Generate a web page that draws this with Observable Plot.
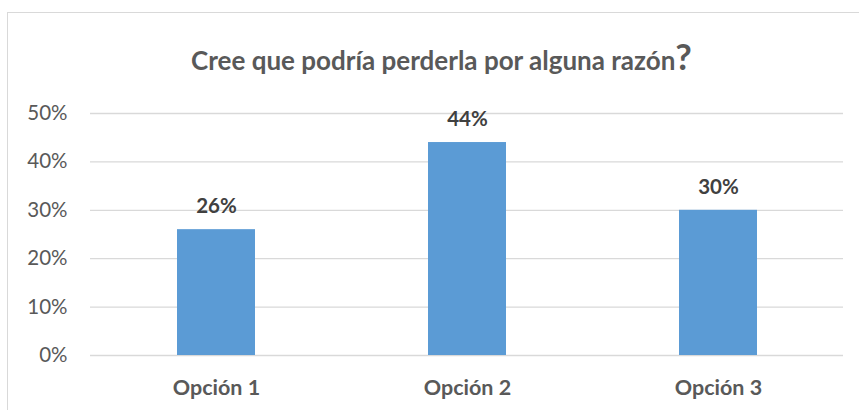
<!DOCTYPE html>
<html><head><meta charset="utf-8">
<script src="https://cdn.jsdelivr.net/npm/d3@7"></script>
<script src="https://cdn.jsdelivr.net/npm/@observablehq/plot@0.6"></script>
<style>
body{margin:0;background:#fff;}
#wrap{position:relative;width:859px;height:410px;overflow:hidden;font-family:Lato,"Open Sans",sans-serif;}
#frame{position:absolute;left:7px;top:12px;width:900px;height:460px;border:1.5px solid #d9d9d9;box-sizing:border-box;}
#title{position:absolute;left:0;top:0;width:859px;height:90px;box-sizing:border-box;padding-top:41px;text-align:center;font-weight:bold;font-size:26px;color:#595959;padding-left:24px;line-height:30px;}
#title .q{font-size:36px;}
#chart{position:absolute;left:0;top:90px;}
</style></head>
<body>
<div id="wrap"><div id="frame"></div><div id="title">Cree que podría perderla por alguna razón<span class="q">?</span></div><div id="chart"></div></div>
<script>
const categories = ["Opción 1", "Opción 2", "Opción 3"];
const values = [0.26, 0.44, 0.30];
const yTicks = [0, 0.1, 0.2, 0.3, 0.4, 0.5];
const data = categories.map((c, i) => ({cat: c, v: values[i]}));
const fmt = d3.format(".0%");
const plot = Plot.plot({
  width: 859, height: 320,
  marginTop: 23, marginBottom: 55, marginLeft: 90, marginRight: 16,
  style: {fontFamily: "Lato, 'Open Sans', sans-serif", background: "transparent"},
  x: {domain: categories, paddingInner: 0.69, paddingOuter: 0.345, label: null},
  y: {domain: [0, 0.5], label: null},
  marks: [
    Plot.ruleY(yTicks, {stroke: "#d9d9d9", strokeWidth: 1.3}),
    Plot.barY(data, {x: "cat", y: "v", fill: "#5b9bd5"}),
    Plot.text(data, {x: "cat", y: "v", text: d => fmt(d.v), dy: -23, fontWeight: "bold", fontSize: 20.5, fill: "#404040"}),
    Plot.axisY({ticks: yTicks, tickFormat: fmt, tickSize: 0, tickPadding: 23, fontSize: 20.5, color: "#595959"}),
    Plot.axisX({tickSize: 0, tickPadding: 24, fontSize: 21.5, fontWeight: "bold", color: "#595959"})
  ]
});
document.getElementById("chart").appendChild(plot);
</script>
</body></html>
